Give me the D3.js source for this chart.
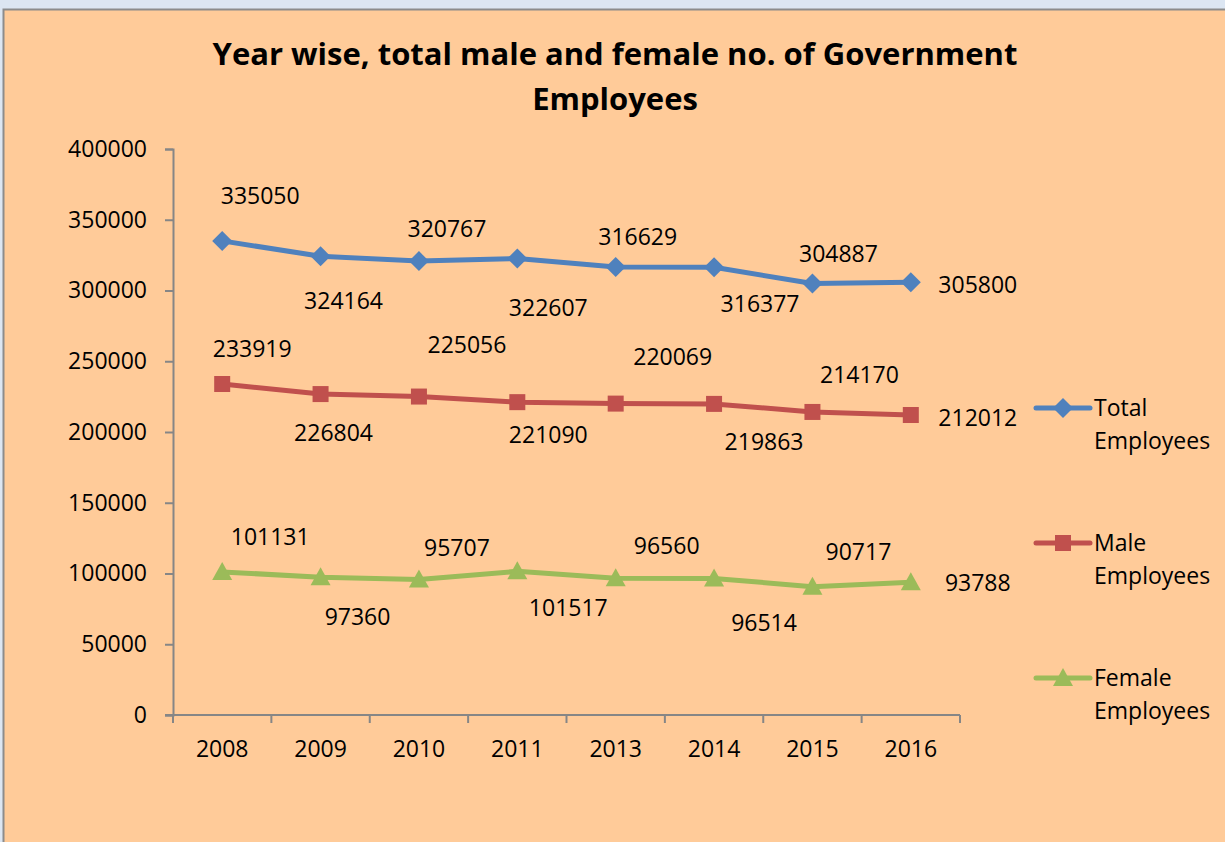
<!DOCTYPE html>
<html>
<head>
<meta charset="utf-8">
<script src="https://cdn.jsdelivr.net/npm/d3@7"></script>
<style>
  body { margin: 0; background: #dce6f2; }
  svg { display: block; }
  text { font-family: "Open Sans", sans-serif; fill: #000; }
</style>
</head>
<body>
<svg id="chart" width="1225" height="842"></svg>
<script>
const years = ["2008", "2009", "2010", "2011", "2013", "2014", "2015", "2016"];
const totalEmployees = [335050, 324164, 320767, 322607, 316629, 316377, 304887, 305800];
const maleEmployees = [233919, 226804, 225056, 221090, 220069, 219863, 214170, 212012];
const femaleEmployees = [101131, 97360, 95707, 101517, 96560, 96514, 90717, 93788];
const yTicks = [0, 50000, 100000, 150000, 200000, 250000, 300000, 350000, 400000];

// label offsets (dx, dy) relative to each point, like the hand-placed Excel labels
const totalOffsets = [[38,-46],[23,44],[28,-33],[31,48],[22,-31],[46,36],[26,-31],[67,2]];
const maleOffsets = [[30,-36],[13,38],[48,-53],[31,32],[57,-48],[50,37],[47,-38],[67,2]];
const femaleOffsets = [[48,-36],[37,39],[38,-33],[51,36],[51,-33],[50,44],[46,-36],[67,0]];

const series = [
  { name: ["Total", "Employees"], values: totalEmployees, color: "#4f81bd", marker: "diamond", offsets: totalOffsets },
  { name: ["Male", "Employees"], values: maleEmployees, color: "#c0504d", marker: "square", offsets: maleOffsets },
  { name: ["Female", "Employees"], values: femaleEmployees, color: "#9bbb59", marker: "triangle", offsets: femaleOffsets }
];

const svg = d3.select("#chart");
const fs = 23;

// chart area
svg.append("rect")
  .attr("x", 3.5).attr("y", 9.5)
  .attr("width", 1240).attr("height", 850)
  .attr("fill", "#ffcb99")
  .attr("stroke", "#8c8c8c")
  .attr("stroke-width", 2);

// title
const title = svg.append("text")
  .attr("text-anchor", "middle")
  .attr("font-size", 31)
  .attr("font-weight", "bold");
title.append("tspan").attr("x", 615).attr("y", 65).text("Year wise, total male and female no. of Government");
title.append("tspan").attr("x", 615).attr("y", 110).text("Employees");

const x = d3.scaleBand().domain(years).range([173, 960]);
const y = d3.scaleLinear().domain([0, 400000]).range([715, 149]);

const axisColor = "#868686";

// y axis
const yAxis = svg.append("g")
  .attr("transform", "translate(173,0)")
  .call(d3.axisLeft(y).tickValues(yTicks).tickSize(8).tickPadding(18).tickFormat(d3.format("d")));
yAxis.select(".domain").attr("stroke", axisColor).attr("stroke-width", 2);
yAxis.selectAll(".tick line").attr("stroke", axisColor).attr("stroke-width", 2);
yAxis.selectAll(".tick text").attr("font-size", fs).attr("font-family", "Open Sans").attr("fill", "#000");

// x axis
const xAxis = svg.append("g")
  .attr("transform", "translate(0,715)");
xAxis.append("line")
  .attr("x1", 165).attr("x2", 960)
  .attr("stroke", axisColor).attr("stroke-width", 2);
xAxis.selectAll("line.tick")
  .data(d3.range(years.length + 1))
  .join("line")
  .attr("class", "tick")
  .attr("x1", i => x.range()[0] + i * x.step())
  .attr("x2", i => x.range()[0] + i * x.step())
  .attr("y1", 0).attr("y2", 8)
  .attr("stroke", axisColor).attr("stroke-width", 2);
xAxis.selectAll("text")
  .data(years)
  .join("text")
  .attr("x", d => x(d) + x.bandwidth() / 2)
  .attr("y", 42)
  .attr("text-anchor", "middle")
  .attr("font-size", fs)
  .text(d => d);

const cx = (d, i) => x(years[i]) + x.bandwidth() / 2;

function drawMarker(g, type, color) {
  if (type === "diamond") {
    g.append("path").attr("d", "M0,-10L10,0L0,10L-10,0Z").attr("fill", color);
  } else if (type === "square") {
    g.append("rect").attr("x", -8).attr("y", -8).attr("width", 16).attr("height", 16).attr("fill", color);
  } else {
    g.append("path").attr("d", "M0,-10L10,8L-10,8Z").attr("fill", color);
  }
}

const line = d3.line()
  .x(cx)
  .y(d => y(d));

series.forEach(s => {
  svg.append("path")
    .datum(s.values)
    .attr("d", line)
    .attr("fill", "none")
    .attr("stroke", s.color)
    .attr("stroke-width", 5)
    .attr("stroke-linejoin", "round");

  s.values.forEach((v, i) => {
    const g = svg.append("g").attr("transform", `translate(${cx(v, i)},${y(v)})`);
    drawMarker(g, s.marker, s.color);
  });

  svg.append("g")
    .selectAll("text")
    .data(s.values)
    .join("text")
    .attr("x", (d, i) => cx(d, i) + s.offsets[i][0])
    .attr("y", (d, i) => y(d) + s.offsets[i][1])
    .attr("text-anchor", "middle")
    .attr("dominant-baseline", "central")
    .attr("font-size", fs)
    .text(d => d);
});

// legend
const legend = svg.append("g");
series.forEach((s, i) => {
  const ly = 408 + i * 135;
  legend.append("line")
    .attr("x1", 1036).attr("x2", 1090)
    .attr("y1", ly).attr("y2", ly)
    .attr("stroke", s.color).attr("stroke-width", 5).attr("stroke-linecap", "round");
  const g = legend.append("g").attr("transform", `translate(1063,${ly})`);
  drawMarker(g, s.marker, s.color);
  const t = legend.append("text").attr("font-size", fs);
  t.append("tspan").attr("x", 1094).attr("y", ly + 8).text(s.name[0]);
  t.append("tspan").attr("x", 1094).attr("y", ly + 41).text(s.name[1]);
});
</script>
</body>
</html>
